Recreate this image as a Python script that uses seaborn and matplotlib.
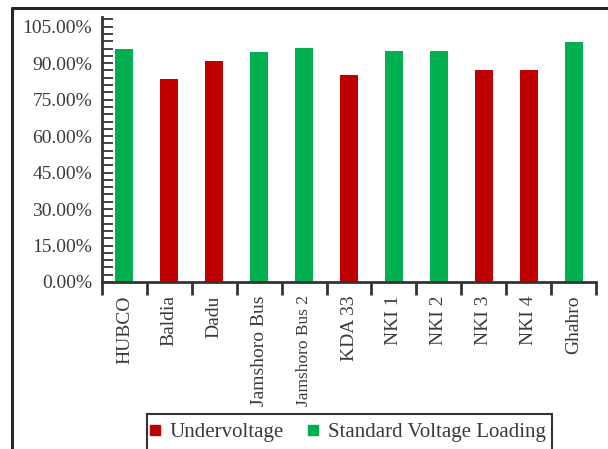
import matplotlib
matplotlib.use("Agg")
import matplotlib.pyplot as plt
from matplotlib.lines import Line2D
from matplotlib.patches import Rectangle
from matplotlib.ticker import MultipleLocator, FuncFormatter, FixedLocator
import seaborn as sns
import pandas as pd

# Bus loading per station (percent of rated voltage)
stations = ["HUBCO", "Baldia", "Dadu", "Jamshoro Bus", "Jamshoro Bus 2", "KDA 33",
            "NKI 1", "NKI 2", "NKI 3", "NKI 4", "Ghahro"]
loading = [95.8, 83.4, 90.8, 94.6, 96.4, 85.1, 94.9, 94.9, 87.1, 87.1, 98.6]
status = ["Standard Voltage Loading", "Undervoltage", "Undervoltage",
          "Standard Voltage Loading", "Standard Voltage Loading", "Undervoltage",
          "Standard Voltage Loading", "Standard Voltage Loading", "Undervoltage",
          "Undervoltage", "Standard Voltage Loading"]
legend_order = ["Undervoltage", "Standard Voltage Loading"]
palette = {"Undervoltage": "#C00000", "Standard Voltage Loading": "#00B050"}

sns.set_theme(style="white")
plt.rcParams["font.family"] = ["Liberation Serif", "DejaVu Serif"]

ink = "#333333"
text_col = "#3a3a3a"

fig = plt.figure(figsize=(6.08, 4.49), dpi=100)
W, H = 608, 449
ax = fig.add_axes([102 / W, 1 - 282 / H, (596 - 102) / W, (282 - 17) / H])

df = pd.DataFrame({"Station": stations, "Loading": loading, "Status": status})
sns.barplot(data=df, x="Station", y="Loading", hue="Status", palette=palette,
            order=stations, hue_order=legend_order, dodge=False, width=0.4,
            saturation=1, linewidth=0, legend=False, ax=ax)

ax.set_xlim(-0.5, len(stations) - 0.5)
ax.set_ylim(0, 109)
ax.set_xlabel("")
ax.set_ylabel("")

for side in ["top", "right"]:
    ax.spines[side].set_visible(False)
for side in ["left", "bottom"]:
    ax.spines[side].set_color(ink)
    ax.spines[side].set_linewidth(2)

# y axis: labelled every 15 %, inward minor ticks every 3 %
ax.yaxis.set_major_locator(MultipleLocator(15))
ax.yaxis.set_minor_locator(MultipleLocator(3))
ax.yaxis.set_major_formatter(FuncFormatter(lambda v, p: f"{v:.2f}%"))
ax.tick_params(axis="y", which="both", direction="in", length=8, width=1.3,
               color=ink, left=True, pad=7, labelsize=14, labelcolor=text_col)

# x axis: labels at bar centres, tick marks at category boundaries
ax.xaxis.set_major_locator(FixedLocator(range(len(stations))))
ax.set_xticklabels(stations, rotation=90, va="top", ha="center")
ax.xaxis.set_minor_locator(FixedLocator([i - 0.5 for i in range(len(stations) + 1)]))
ax.tick_params(axis="x", which="major", length=0, pad=9.5, labelsize=14,
               labelcolor=text_col, bottom=True)
ax.tick_params(axis="x", which="minor", direction="out", length=9, width=2,
               color=ink, bottom=True)
for lbl in ax.get_xticklabels():
    if lbl.get_text() == "Jamshoro Bus 2":
        lbl.set_fontsize(12.5)

# legend with square swatches, inside a box that runs past the bottom edge
handles = [Line2D([], [], marker="s", linestyle="none", markersize=7.5,
                  markerfacecolor=palette[k], markeredgecolor=palette[k], label=k)
           for k in legend_order]
leg = fig.legend(handles=handles, loc="center left",
                 bbox_to_anchor=(149 / W, 1 - 432 / H), ncol=2, frameon=False,
                 fontsize=15, handlelength=0.6, handletextpad=0.4,
                 columnspacing=1.1, borderpad=0, borderaxespad=0)
for t in leg.get_texts():
    t.set_color(text_col)
fig.add_artist(Rectangle((147 / W, -0.05), (552 - 147) / W, 0.05 + (449 - 414) / H,
                         transform=fig.transFigure, fill=False, edgecolor=ink,
                         linewidth=1.5))

# outer frame around the chart area
fig.add_artist(Line2D([12 / W, 12 / W], [0, 1 - 7.5 / H], transform=fig.transFigure,
                      color="#262626", lw=2.2))
fig.add_artist(Line2D([12 / W, 1], [1 - 7.5 / H, 1 - 7.5 / H], transform=fig.transFigure,
                      color="#262626", lw=2.2))

fig.savefig("out.png", dpi=100)
